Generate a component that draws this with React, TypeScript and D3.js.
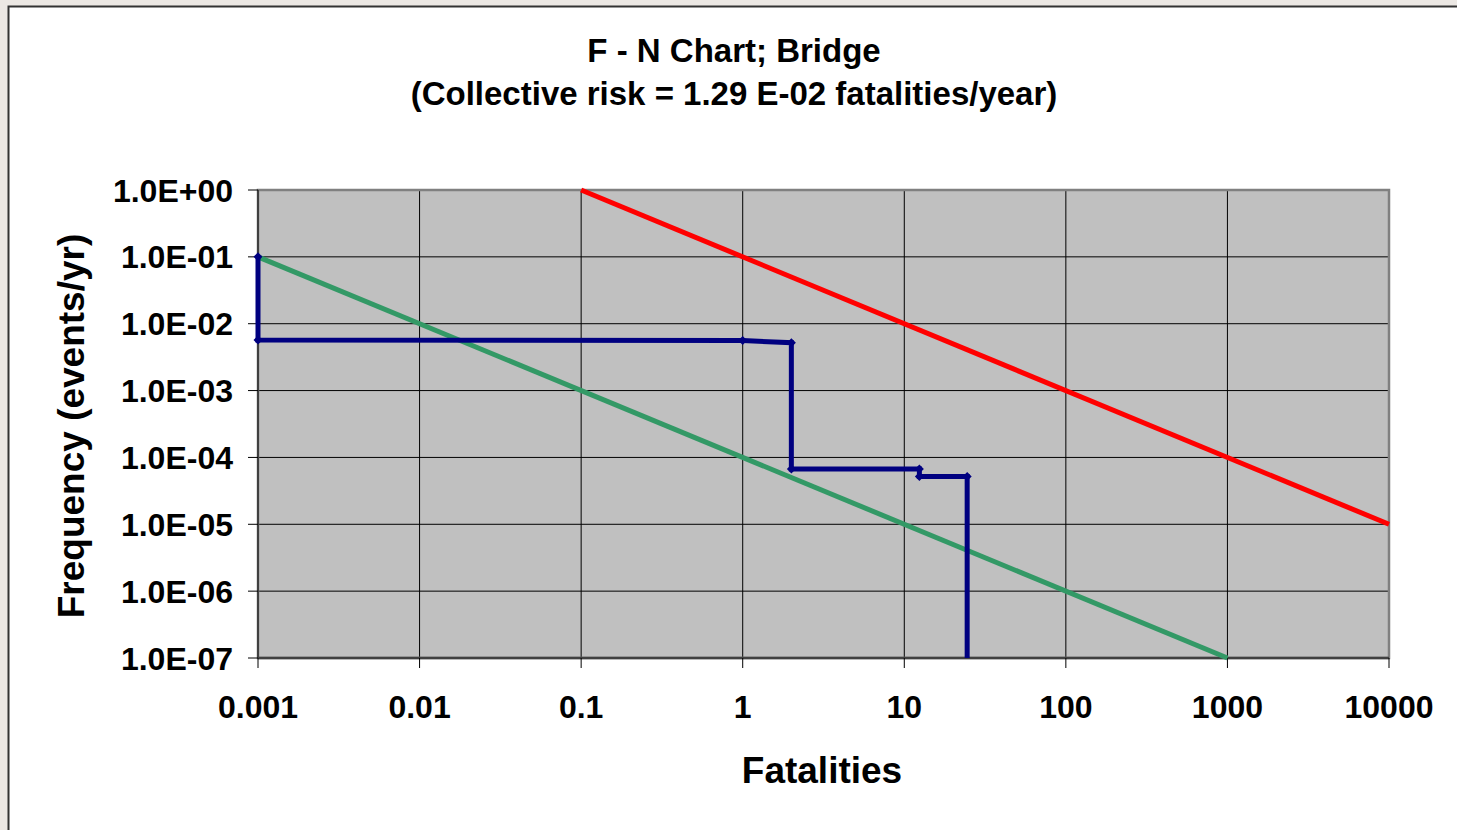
import React from "react";
import * as d3 from "d3";

// Blue F-N curve (cumulative frequency vs. number of fatalities), step shape
const curveN = [0.001, 0.001, 1, 2, 2, 12.4, 12.4, 24.5, 24.5];
const curveF = [0.1, 0.0057, 0.0056, 0.0052, 6.7e-5, 6.7e-5, 5.2e-5, 5.2e-5, 1e-7];
const markerIdx = [0, 1, 2, 3, 4, 5, 6, 7];

// Upper (red) and lower (green) criterion lines
const upperN = [0.1, 10000];
const upperF = [1, 1e-5];
const lowerN = [0.001, 1000];
const lowerF = [0.1, 1e-7];

const xTicks = [0.001, 0.01, 0.1, 1, 10, 100, 1000, 10000];
const xTickLabels = ["0.001", "0.01", "0.1", "1", "10", "100", "1000", "10000"];
const yTicks = [1, 1e-1, 1e-2, 1e-3, 1e-4, 1e-5, 1e-6, 1e-7];
const yTickLabels = ["1.0E+00", "1.0E-01", "1.0E-02", "1.0E-03", "1.0E-04", "1.0E-05", "1.0E-06", "1.0E-07"];

const titleLines = ["F - N Chart; Bridge", "(Collective risk = 1.29 E-02 fatalities/year)"];
const xTitle = "Fatalities";
const yTitle = "Frequency (events/yr)";

const W = 1457;
const H = 830;
const plot = { left: 258, right: 1389, top: 190, bottom: 658 };
const font = "'Liberation Sans', Arial, sans-serif";

export default function App() {
  const x = d3.scaleLog().domain([0.001, 10000]).range([plot.left, plot.right]);
  const y = d3.scaleLog().domain([1e-7, 1]).range([plot.bottom, plot.top]);

  const line = d3
    .line<[number, number]>()
    .x((d) => x(d[0]))
    .y((d) => y(d[1]));

  const curve = curveN.map((n, i) => [n, curveF[i]] as [number, number]);
  const upper = upperN.map((n, i) => [n, upperF[i]] as [number, number]);
  const lower = lowerN.map((n, i) => [n, lowerF[i]] as [number, number]);

  return (
    <svg
      width={W}
      height={H}
      style={{ position: "absolute", left: 0, top: 0, display: "block" }}
      fontFamily={font}
    >
      <rect x={0} y={0} width={W} height={H} fill="#ece8e4" />
      <rect x={8.5} y={6.5} width={W + 10} height={H + 10} fill="#ffffff" stroke="#333333" strokeWidth={2} />

      {/* Title */}
      {titleLines.map((t, i) => (
        <text key={t} x={734} y={62 + i * 43} textAnchor="middle" fontSize={33} fontWeight="bold" fill="#000">
          {t}
        </text>
      ))}

      {/* Plot background */}
      <rect x={plot.left} y={plot.top} width={plot.right - plot.left} height={plot.bottom - plot.top} fill="#c0c0c0" />

      {/* Gridlines */}
      {yTicks.map((v) => (
        <line key={"gy" + v} x1={plot.left} x2={plot.right} y1={y(v)} y2={y(v)} stroke="#000" strokeWidth={1} />
      ))}
      {xTicks.map((v) => (
        <line key={"gx" + v} x1={x(v)} x2={x(v)} y1={plot.top} y2={plot.bottom} stroke="#000" strokeWidth={1} />
      ))}

      <rect
        x={plot.left}
        y={plot.top}
        width={plot.right - plot.left}
        height={plot.bottom - plot.top}
        fill="none"
        stroke="#808080"
        strokeWidth={2.5}
      />
      {/* Axis lines */}
      <line x1={plot.left} x2={plot.left} y1={plot.top} y2={plot.bottom} stroke="#404040" strokeWidth={2} />
      <line x1={plot.left} x2={plot.right} y1={plot.bottom} y2={plot.bottom} stroke="#404040" strokeWidth={2.5} />

      {/* Tick marks */}
      {yTicks.map((v) => (
        <line key={"ty" + v} x1={plot.left - 10} x2={plot.left} y1={y(v)} y2={y(v)} stroke="#000" strokeWidth={1} />
      ))}
      {xTicks.map((v) => (
        <line key={"tx" + v} x1={x(v)} x2={x(v)} y1={plot.bottom} y2={plot.bottom + 10} stroke="#000" strokeWidth={1} />
      ))}

      {/* Criterion lines */}
      <path d={line(lower) || ""} fill="none" stroke="#339966" strokeWidth={5} />
      <path d={line(upper) || ""} fill="none" stroke="#ff0000" strokeWidth={5} />

      {/* F-N curve */}
      <path d={line(curve) || ""} fill="none" stroke="#000080" strokeWidth={5} strokeLinejoin="miter" />
      {markerIdx.map((i) => {
        const cx = x(curveN[i]);
        const cy = y(curveF[i]);
        return (
          <path
            key={"m" + i}
            d={`M${cx},${cy - 4.5}L${cx + 4.5},${cy}L${cx},${cy + 4.5}L${cx - 4.5},${cy}Z`}
            fill="#000080"
          />
        );
      })}

      {/* Tick labels */}
      {yTicks.map((v, i) => (
        <text key={"ly" + v} x={233} y={y(v) + 11.5} textAnchor="end" fontSize={32} fontWeight="bold" fill="#000">
          {yTickLabels[i]}
        </text>
      ))}
      {xTicks.map((v, i) => (
        <text key={"lx" + v} x={x(v)} y={718} textAnchor="middle" fontSize={32} fontWeight="bold" fill="#000">
          {xTickLabels[i]}
        </text>
      ))}

      {/* Axis titles */}
      <text x={822} y={783} textAnchor="middle" fontSize={37} fontWeight="bold" fill="#000">
        {xTitle}
      </text>
      <text
        transform={`translate(84,426) rotate(-90)`}
        textAnchor="middle"
        fontSize={37}
        fontWeight="bold"
        fill="#000"
      >
        {yTitle}
      </text>
    </svg>
  );
}
